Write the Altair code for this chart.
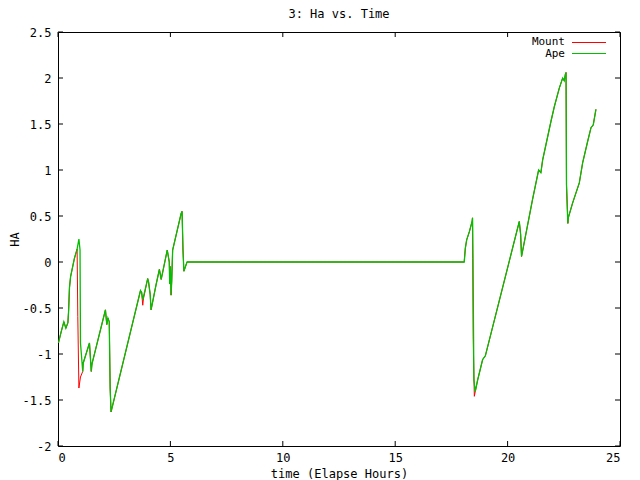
import altair as alt
import pandas as pd

# ---- data ----
ape_time = [0.02, 0.14, 0.26, 0.35, 0.44, 0.47, 0.51, 0.56, 0.73, 0.85, 0.93, 0.98,
            1.00, 1.10, 1.12, 1.40, 1.48, 1.52, 2.07, 2.11, 2.17, 2.22, 2.28, 2.32,
            2.36, 3.67, 3.72, 3.77, 3.80, 3.99, 4.03, 4.10, 4.14, 4.36, 4.51, 4.59,
            4.86, 4.95, 4.97, 5.00, 5.03, 5.06, 5.10, 5.48, 5.52, 5.56, 5.60, 5.74,
            18.07, 18.12, 18.18, 18.30, 18.42, 18.44, 18.46, 18.50, 18.56, 18.67,
            18.89, 19.01, 20.52, 20.58, 20.62, 21.11, 21.38, 21.48, 21.56, 21.71,
            21.93, 22.08, 22.30, 22.45, 22.52, 22.57, 22.60, 22.62, 22.68, 22.70,
            22.89, 23.19, 23.34, 23.56, 23.71, 23.81, 23.93]
ape_ha = [-0.88, -0.76, -0.65, -0.72, -0.66, -0.54, -0.28, -0.16, 0.04, 0.14, 0.25, 0.13,
          -0.88, -1.19, -1.10, -0.88, -1.19, -1.10, -0.56, -0.52, -0.68, -0.61, -0.65, -1.37,
          -1.63, -0.31, -0.33, -0.41, -0.38, -0.18, -0.22, -0.35, -0.52, -0.25, -0.08, -0.19,
          0.13, 0.00, -0.24, -0.05, -0.36, -0.20, 0.13, 0.53, 0.55, 0.13, -0.10, 0.00,
          0.00, 0.15, 0.24, 0.33, 0.44, 0.48, 0.04, -1.28, -1.41, -1.28,
          -1.06, -1.02, 0.44, 0.30, 0.06, 0.68, 1.00, 0.97, 1.11, 1.28,
          1.53, 1.69, 1.89, 2.00, 1.97, 2.04, 2.06, 0.84, 0.42, 0.48,
          0.64, 0.86, 1.08, 1.31, 1.46, 1.49, 1.66]

mount_time = [0.02, 0.14, 0.26, 0.35, 0.44, 0.47, 0.51, 0.56, 0.73, 0.85, 0.88, 0.93,
              1.00, 1.10, 1.12, 1.40, 1.48, 1.50, 1.52, 2.07, 2.11, 2.17, 2.22, 2.28, 2.32,
              2.36, 3.67, 3.72, 3.77, 3.80, 3.99, 4.03, 4.10, 4.14, 4.36, 4.51, 4.59,
              4.86, 4.95, 4.97, 5.00, 5.03, 5.06, 5.10, 5.48, 5.52, 5.56, 5.60, 5.74,
              18.07, 18.12, 18.18, 18.30, 18.42, 18.44, 18.45, 18.47, 18.48, 18.52, 18.56,
              18.67, 18.89, 19.01, 20.52, 20.58, 20.62, 21.11, 21.38, 21.48, 21.56, 21.71,
              21.93, 22.08, 22.30, 22.45, 22.52, 22.57, 22.60, 22.62, 22.68, 22.70,
              22.89, 23.19, 23.34, 23.56, 23.71, 23.81, 23.93]
mount_ha = [-0.88, -0.76, -0.65, -0.72, -0.66, -0.54, -0.28, -0.16, 0.04, 0.14, -0.59, -1.37,
            -1.25, -1.19, -1.10, -0.88, -1.19, -1.12, -1.10, -0.56, -0.52, -0.68, -0.61, -0.65, -1.37,
            -1.63, -0.31, -0.33, -0.47, -0.40, -0.18, -0.22, -0.35, -0.52, -0.25, -0.08, -0.19,
            0.13, 0.00, -0.24, -0.05, -0.36, -0.20, 0.13, 0.53, 0.55, 0.13, -0.10, 0.00,
            0.00, 0.15, 0.24, 0.33, 0.44, 0.48, 0.04, -0.81, -0.97, -1.46, -1.41,
            -1.28, -1.06, -1.02, 0.44, 0.30, 0.06, 0.68, 1.00, 0.97, 1.11, 1.28,
            1.53, 1.69, 1.89, 2.00, 1.97, 2.04, 2.06, 0.84, 0.42, 0.48,
            0.64, 0.86, 1.08, 1.31, 1.46, 1.49, 1.66]

x_ticks = [0, 5, 10, 15, 20, 25]
y_ticks = [-2, -1.5, -1, -0.5, 0, 0.5, 1, 1.5, 2, 2.5]
series_names = ["Mount", "Ape"]
series_colors = ["#ff0000", "#00c000"]

W, H = 562, 414
FONT = "DejaVu Sans Mono"
FS = 12

xscale = alt.Scale(domain=[0, 25], nice=False, zero=False)
yscale = alt.Scale(domain=[-2, 2.5], nice=False, zero=False)

mount_df = pd.DataFrame({"time": mount_time, "ha": mount_ha, "i": range(len(mount_time))})
ape_df = pd.DataFrame({"time": ape_time, "ha": ape_ha, "i": range(len(ape_time))})

axis_style = dict(ticks=False, domain=False, grid=False,
                  labelFont=FONT, labelFontSize=FS, labelColor="black",
                  titleFont=FONT, titleFontSize=FS, titleColor="black",
                  titleFontWeight="normal", labelExpr="datum.value + ''")
xaxis = alt.Axis(values=x_ticks, labelPadding=6, titlePadding=5,
                 title="time (Elapse Hours)", **axis_style)
yaxis = alt.Axis(values=y_ticks, labelPadding=7, titlePadding=1,
                 title="HA", **axis_style)

mount_line = alt.Chart(mount_df).mark_line(color=series_colors[0], strokeWidth=1).encode(
    x=alt.X("time:Q", scale=xscale, axis=xaxis),
    y=alt.Y("ha:Q", scale=yscale, axis=yaxis),
    order="i:Q",
)
ape_line = alt.Chart(ape_df).mark_line(color=series_colors[1], strokeWidth=1.3).encode(
    x=alt.X("time:Q", scale=xscale),
    y=alt.Y("ha:Q", scale=yscale),
    order="i:Q",
)

xt_df = pd.DataFrame({"time": x_ticks})
yt_df = pd.DataFrame({"ha": y_ticks})
tick_bottom = alt.Chart(xt_df).mark_rule(color="black", strokeWidth=1).encode(
    x=alt.X("time:Q", scale=xscale), y=alt.value(H), y2=alt.value(H - 5))
tick_top = alt.Chart(xt_df).mark_rule(color="black", strokeWidth=1).encode(
    x=alt.X("time:Q", scale=xscale), y=alt.value(0), y2=alt.value(5))
tick_left = alt.Chart(yt_df).mark_rule(color="black", strokeWidth=1).encode(
    y=alt.Y("ha:Q", scale=yscale), x=alt.value(0), x2=alt.value(5))
tick_right = alt.Chart(yt_df).mark_rule(color="black", strokeWidth=1).encode(
    y=alt.Y("ha:Q", scale=yscale), x=alt.value(W - 5), x2=alt.value(W))

leg_df = pd.DataFrame({"name": series_names})
leg_text1 = alt.Chart(leg_df).transform_filter(alt.datum.name == series_names[0]).mark_text(
    align="right", baseline="middle", font=FONT, fontSize=11, color="black").encode(
    text="name:N", x=alt.value(507), y=alt.value(9.5))
leg_text2 = alt.Chart(leg_df).transform_filter(alt.datum.name == series_names[1]).mark_text(
    align="right", baseline="middle", font=FONT, fontSize=11, color="black").encode(
    text="name:N", x=alt.value(507), y=alt.value(21.5))
leg_rule1 = alt.Chart(leg_df).mark_rule(color=series_colors[0], strokeWidth=1).encode(
    x=alt.value(514), x2=alt.value(548), y=alt.value(10.5))
leg_rule2 = alt.Chart(leg_df).mark_rule(color=series_colors[1], strokeWidth=1).encode(
    x=alt.value(514), x2=alt.value(548), y=alt.value(21.5))

chart = alt.layer(
    mount_line, ape_line, tick_bottom, tick_top, tick_left, tick_right,
    leg_rule1, leg_rule2, leg_text1, leg_text2,
).properties(
    width=W, height=H,
    title=alt.TitleParams("3: Ha vs. Time", font=FONT, fontSize=FS, fontWeight="normal",
                          color="black", offset=5, anchor="middle"),
    autosize=alt.AutoSizeParams(type="none"),
    padding={"left": 50, "top": 24, "right": 10, "bottom": 34},
    background="white",
).configure_view(
    stroke="black", strokeWidth=1
)

chart.save("out.html", embed_options={"renderer": "svg", "actions": False})
